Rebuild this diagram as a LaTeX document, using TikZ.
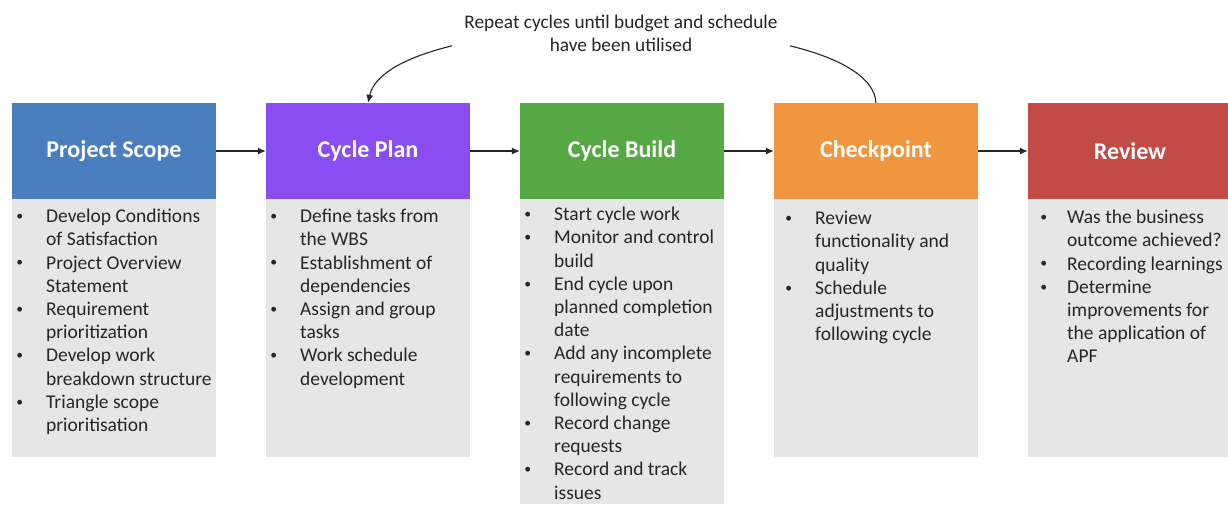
\documentclass[tikz,border=0pt]{standalone}
\usepackage{graphicx}
\usepackage{fontspec}
\setmainfont{Carlito}
\usetikzlibrary{arrows.meta}
\definecolor{cblue}{HTML}{4A7EBF}
\definecolor{cpurple}{HTML}{8A4DF2}
\definecolor{cgreen}{HTML}{56A844}
\definecolor{corange}{HTML}{F0963E}
\definecolor{cred}{HTML}{C24B48}
\definecolor{panelgray}{HTML}{E6E6E6}
\definecolor{txt}{HTML}{262626}
\newlength\bulw
\newcommand\bi[1]{\makebox[\bulw][l]{\hspace*{1.2pt}\raisebox{2.2pt}{\scalebox{0.7}{\textbullet}}}#1}
\newcommand\ci[1]{\hspace*{\bulw}#1}
\begin{document}
\begin{tikzpicture}[x=1pt,y=-1pt,
  head/.style={minimum width=204pt,minimum height=96pt,inner sep=0pt,text=white,font=\fontsize{24}{28}\selectfont\bfseries},
  panel/.style={fill=panelgray,inner sep=0pt,anchor=north west,minimum width=204pt},
  list/.style={anchor=north west,inner sep=0pt,align=left,text=txt,font=\fontsize{19.5}{23.2}\selectfont},
  link/.style={-{Latex[length=8pt,width=7pt]},line width=1.1pt,draw=txt}]
\useasboundingbox (0,0) rectangle (1228,504);
% panels
\node[panel,minimum height=259pt] (p1) at (12,198) {};
\node[panel,minimum height=259pt] (p2) at (266,198) {};
\node[panel,minimum height=306pt] (p3) at (520,198) {};
\node[panel,minimum height=259pt] (p4) at (774,198) {};
\node[panel,minimum height=259pt] (p5) at (1028,198) {};
% headers
\node[head,fill=cblue] (h1) at (114,151) {Project Scope};
\node[head,fill=cpurple] (h2) at (368,151) {Cycle Plan};
\node[head,fill=cgreen] (h3) at (622,151) {Cycle Build};
\node[head,fill=corange] (h4) at (876,151) {Checkpoint};
\node[head,fill=cred] (h5) at (1130,151) {Review};
% lists
\node[list] (t1) at (15,209) {\global\bulw=31pt\bi{Develop Conditions}\\ \ci{of Satisfaction}\\ \bi{Project Overview}\\ \ci{Statement}\\ \bi{Requirement}\\ \ci{prioritization}\\ \bi{Develop work}\\ \ci{breakdown structure}\\ \bi{Triangle scope}\\ \ci{prioritisation}};
\node[list] (t2) at (269,209) {\global\bulw=31pt\bi{Define tasks from}\\ \ci{the WBS}\\ \bi{Establishment of}\\ \ci{dependencies}\\ \bi{Assign and group}\\ \ci{tasks}\\ \bi{Work schedule}\\ \ci{development}};
\node[list] (t3) at (523,207) {\global\bulw=31pt\bi{Start cycle work}\\ \bi{Monitor and control}\\ \ci{build}\\ \bi{End cycle upon}\\ \ci{planned completion}\\ \ci{date}\\ \bi{Add any incomplete}\\ \ci{requirements to}\\ \ci{following cycle}\\ \bi{Record change}\\ \ci{requests}\\ \bi{Record and track}\\ \ci{issues}};
\node[list] (t4) at (784,211) {\global\bulw=31pt\bi{Review}\\ \ci{functionality and}\\ \ci{quality}\\ \bi{Schedule}\\ \ci{adjustments to}\\ \ci{following cycle}};
\node[list] (t5) at (1039,210) {\global\bulw=28pt\bi{Was the business}\\ \ci{outcome achieved?}\\ \bi{Recording learnings}\\ \bi{Determine}\\ \ci{improvements for}\\ \ci{the application of}\\ \ci{APF}};
% arrows
\draw[link] (h1.east) -- (h2.west);
\draw[link] (h2.east) -- (h3.west);
\draw[link] (h3.east) -- (h4.west);
\draw[link] (h4.east) -- (h5.west);
\draw[link] (h4.north) .. controls (870,5) and (390,5) .. (h2.north);
\node[fill=white,align=center,inner xsep=12pt,inner ysep=3pt,text=txt,font=\fontsize{19.3}{23}\selectfont] (note) at (621,33) {Repeat cycles until budget and schedule\\have been utilised};
\end{tikzpicture}
\end{document}
